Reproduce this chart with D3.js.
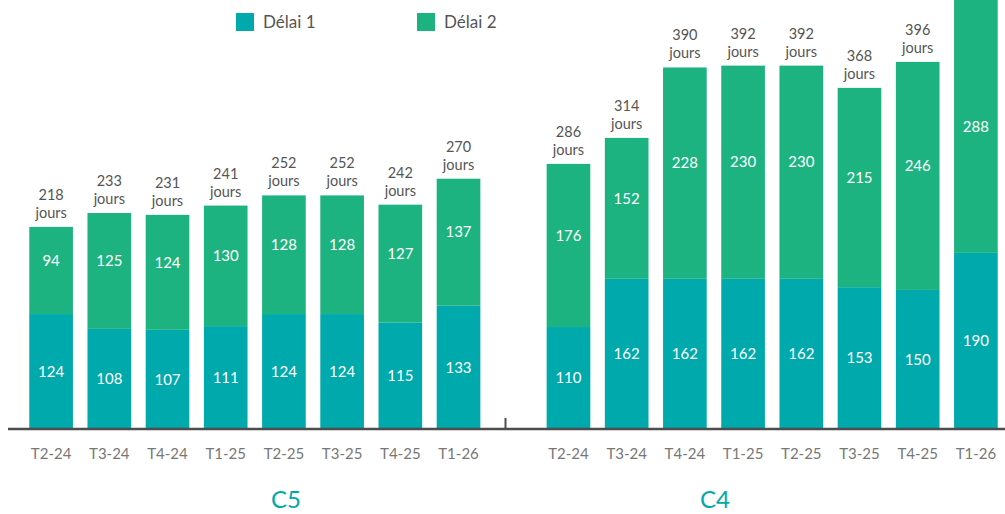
<!DOCTYPE html>
<html>
<head>
<meta charset="utf-8">
<script src="https://cdn.jsdelivr.net/npm/d3@7"></script>
<style>
  body { margin: 0; background: #fff; }
  text { font-family: "Lato", "Open Sans", sans-serif; }
</style>
</head>
<body>
<div id="chart"></div>
<script>
// data
var groups = ["C5", "C4"];
var quarters = ["T2-24", "T3-24", "T4-24", "T1-25", "T2-25", "T3-25", "T4-25", "T1-26"];
var c5Delai1 = [124, 108, 107, 111, 124, 124, 115, 133];
var c5Delai2 = [94, 125, 124, 130, 128, 128, 127, 137];
var c4Delai1 = [110, 162, 162, 162, 162, 153, 150, 190];
var c4Delai2 = [176, 152, 228, 230, 230, 215, 246, 288];
var seriesNames = ["Délai 1", "Délai 2"];

var svgWidth = 1005;
var svgHeight = 514;
var baseline = 429;
var colors = ["#00a9ac", "#1db380"];

var svg = d3.select("#chart")
  .append("svg")
  .attr("width", svgWidth)
  .attr("height", svgHeight);

// build rows
var rows = [];
groups.forEach(function(g) {
  var d1 = g === "C5" ? c5Delai1 : c4Delai1;
  var d2 = g === "C5" ? c5Delai2 : c4Delai2;
  quarters.forEach(function(q, i) {
    rows.push({ group: g, quarter: q, d1: d1[i], d2: d2[i], total: d1[i] + d2[i] });
  });
});

var x0 = d3.scaleBand()
  .domain(groups)
  .range([22, 1005])
  .paddingInner(0.1);

var x1 = d3.scaleBand()
  .domain(quarters)
  .range([0, x0.bandwidth()])
  .paddingInner(0.25)
  .paddingOuter(0.125);

var y = d3.scaleLinear()
  .domain([0, 400])
  .range([baseline, baseline - 400 * 0.927]);

var groupG = svg.selectAll(".grp")
  .data(groups)
  .enter()
  .append("g")
  .attr("class", "grp")
  .attr("transform", function(g) { return `translate(${x0(g)},0)`; });

groupG.each(function(g) {
  var gEl = d3.select(this);
  var data = rows.filter(function(r) { return r.group === g; });

  // Délai 1
  gEl.selectAll(".b1")
    .data(data)
    .enter()
    .append("rect")
    .attr("x", d => x1(d.quarter))
    .attr("width", x1.bandwidth())
    .attr("y", d => y(d.d1))
    .attr("height", d => y(0) - y(d.d1))
    .attr("fill", colors[0]);

  // Délai 2
  gEl.selectAll(".b2")
    .data(data)
    .enter()
    .append("rect")
    .attr("x", d => x1(d.quarter))
    .attr("width", x1.bandwidth())
    .attr("y", d => y(d.total))
    .attr("height", d => y(d.d1) - y(d.total))
    .attr("fill", colors[1]);

  // labels in segments
  gEl.selectAll(".l1")
    .data(data)
    .enter()
    .append("text")
    .attr("x", d => x1(d.quarter) + x1.bandwidth() / 2)
    .attr("y", d => (y(0) + y(d.d1)) / 2)
    .attr("dy", "0.35em")
    .attr("text-anchor", "middle")
    .attr("fill", "#fff")
    .attr("font-size", 15)
    .text(d => d.d1);

  gEl.selectAll(".l2")
    .data(data)
    .enter()
    .append("text")
    .attr("x", d => x1(d.quarter) + x1.bandwidth() / 2)
    .attr("y", function(d) {
      var top = y(d.total);
      if (top < 0) return (0 + y(d.d1)) / 2;
      return (top + y(d.d1)) / 2 - 10;
    })
    .attr("dy", "0.35em")
    .attr("text-anchor", "middle")
    .attr("fill", "#fff")
    .attr("font-size", 15)
    .text(d => d.d2);

  // totals (only where the bar top is inside the chart)
  var tot = gEl.selectAll(".tot")
    .data(data.filter(d => y(d.total) - 40 > 0))
    .enter()
    .append("text")
    .attr("text-anchor", "middle")
    .attr("fill", "#555")
    .attr("font-size", 14.5);
  tot.append("tspan")
    .attr("x", d => x1(d.quarter) + x1.bandwidth() / 2)
    .attr("y", d => y(d.total) - 27)
    .text(d => d.total);
  tot.append("tspan")
    .attr("x", d => x1(d.quarter) + x1.bandwidth() / 2)
    .attr("y", d => y(d.total) - 9)
    .text("jours");

  // quarter tick labels
  var ax = gEl.append("g")
    .attr("transform", `translate(0,${baseline + 16})`)
    .call(d3.axisBottom(x1).tickSize(0));
  ax.select(".domain").remove();
  ax.selectAll("text")
    .attr("font-size", 15)
    .attr("fill", "#777")
    .style("font-family", "Lato, sans-serif");
});

// baseline
svg.append("line")
  .attr("x1", 8)
  .attr("x2", svgWidth)
  .attr("y1", baseline)
  .attr("y2", baseline)
  .attr("stroke", "#4d4d4d")
  .attr("stroke-width", 2.5);

// separator tick between groups
var sepX = (x0("C5") + x0.bandwidth() + x0("C4")) / 2 - 8;
svg.append("line")
  .attr("x1", sepX)
  .attr("x2", sepX)
  .attr("y1", baseline - 11)
  .attr("y2", baseline)
  .attr("stroke", "#4d4d4d")
  .attr("stroke-width", 2);

// group labels
var groupLabelPos = { C5: 0.567, C4: 0.377 };
svg.selectAll(".glabel")
  .data(groups)
  .enter()
  .append("text")
  .attr("x", g => x0(g) + x0.bandwidth() * groupLabelPos[g])
  .attr("y", 508)
  .attr("text-anchor", "middle")
  .attr("fill", colors[0])
  .attr("font-size", 24)
  .text(g => g);

// legend
var legendX = [236, 417];
var legend = svg.selectAll(".leg")
  .data(seriesNames)
  .enter()
  .append("g")
  .attr("transform", (d, i) => `translate(${legendX[i]},13)`);
legend.append("rect")
  .attr("width", 18)
  .attr("height", 18)
  .attr("fill", (d, i) => colors[i]);
legend.append("text")
  .attr("x", 27)
  .attr("y", 9)
  .attr("dy", "0.35em")
  .attr("fill", "#555")
  .attr("font-size", 17)
  .text(d => d);
</script>
</body>
</html>
